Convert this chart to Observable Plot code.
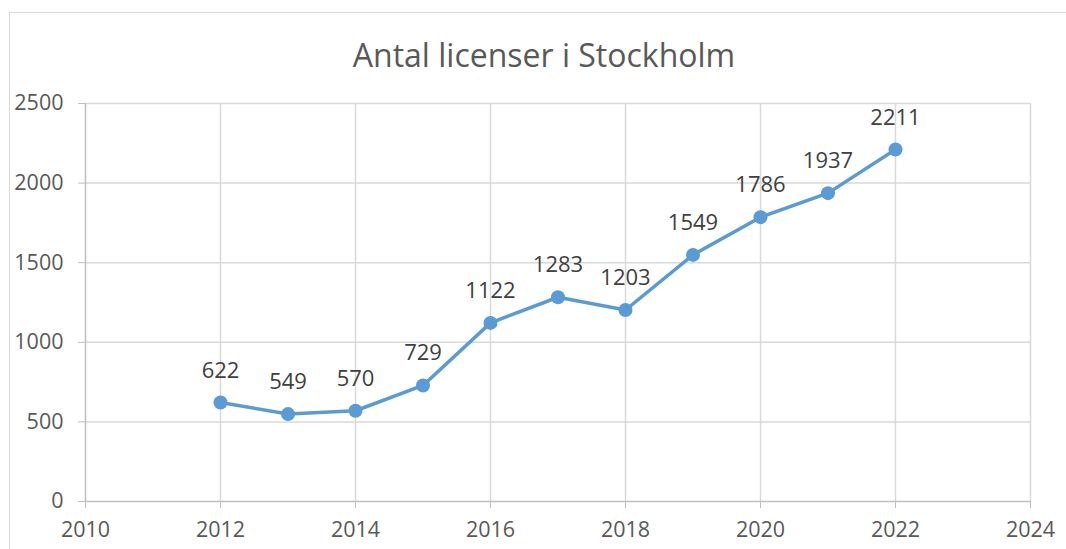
<!DOCTYPE html>
<html><head><meta charset="utf-8">
<script src="https://cdn.jsdelivr.net/npm/d3@7"></script>
<script src="https://cdn.jsdelivr.net/npm/@observablehq/plot@0.6"></script>
<style>
html,body{margin:0;padding:0;background:#fff;}
#wrap{position:relative;width:1066px;height:549px;overflow:hidden;font-family:"Open Sans",sans-serif;}
#frame{position:absolute;left:9px;top:12px;width:1100px;height:600px;border:1.5px solid #d9d9d9;box-sizing:border-box;}
#title{position:absolute;left:0;width:1088px;top:33px;text-align:center;font-size:32px;color:#595959;}
#chart{position:absolute;left:0;top:0;}
</style></head>
<body><div id="wrap"><div id="frame"></div><div id="title">Antal licenser i Stockholm</div><div id="chart"></div></div>
<script>
const years = [2012, 2013, 2014, 2015, 2016, 2017, 2018, 2019, 2020, 2021, 2022];
const licenses = [622, 549, 570, 729, 1122, 1283, 1203, 1549, 1786, 1937, 2211];
const xTicks = [2010, 2012, 2014, 2016, 2018, 2020, 2022, 2024];
const yTicks = [0, 500, 1000, 1500, 2000, 2500];
const data = years.map((y, i) => ({year: y, value: licenses[i]}));
const fmt = d => String(d);
const plot = Plot.plot({
  width: 1066, height: 549,
  marginLeft: 85, marginRight: 36, marginTop: 103, marginBottom: 48,
  style: {fontFamily: '"Open Sans", sans-serif', fontSize: "21px", color: "#595959", background: "transparent", overflow: "visible"},
  x: {domain: [2010, 2024], ticks: xTicks, tickFormat: fmt, label: null},
  y: {domain: [0, 2500], ticks: yTicks, tickFormat: fmt, label: null},
  marks: [
    Plot.gridX(xTicks.slice(1), {stroke: "#d9d9d9", strokeOpacity: 1, strokeWidth: 1.5}),
    Plot.gridY(yTicks.slice(1), {stroke: "#d9d9d9", strokeOpacity: 1, strokeWidth: 1.5}),
    Plot.ruleY([0], {stroke: "#bfbfbf", strokeWidth: 1.5}),
    Plot.ruleX([2010], {stroke: "#bfbfbf", strokeWidth: 1.5}),
    Plot.axisX({ticks: xTicks, tickFormat: fmt, label: null, tickSize: 7, tickPadding: 13, stroke: "#bfbfbf", fill: "#595959", fontSize: 21.5}),
    Plot.axisY({ticks: yTicks, tickFormat: fmt, label: null, tickSize: 7, tickPadding: 15, stroke: "#bfbfbf", fill: "#595959", fontSize: 21.5}),
    Plot.line(data, {x: "year", y: "value", stroke: "#5B9BD5", strokeWidth: 3.5}),
    Plot.dot(data, {x: "year", y: "value", r: 7, fill: "#5B9BD5", stroke: "none"}),
    Plot.text(data, {x: "year", y: "value", text: d => String(d.value), dy: -32, fill: "#404040", fontSize: 22})
  ]
});
document.getElementById("chart").appendChild(plot);
</script></body></html>
